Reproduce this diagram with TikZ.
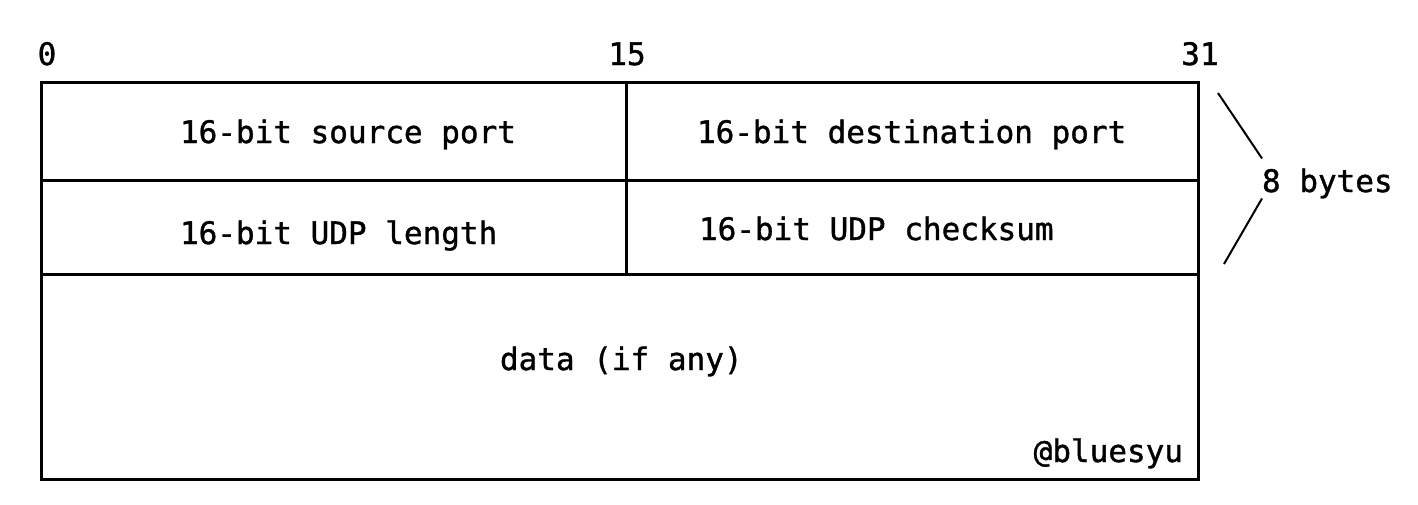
\documentclass[tikz,border=0pt]{standalone}
\usepackage{fontspec}
\setmonofont{DejaVu Sans Mono}[FakeBold=1.2]

\begin{document}
\begin{tikzpicture}[x=1pt, y=-1pt,
  field/.style={draw, line width=3pt, anchor=north west, inner sep=0pt, outer sep=0pt},
  txt/.style={font=\ttfamily\fontsize{31}{36}\selectfont, inner sep=0pt, outer sep=0pt},
  brace/.style={draw, line width=2pt}]

  % Canvas
  \useasboundingbox (0,0) rectangle (1418,504); %

  % Layout the header fields
  \node[field, minimum width=585, minimum height=98]  (src)  at (41,82)   {} ; %
  \node[field, minimum width=572, minimum height=98]  (dst)  at (626,82)  {} ; %
  \node[field, minimum width=585, minimum height=94]  (len)  at (41,180)  {} ; %
  \node[field, minimum width=572, minimum height=94]  (chk)  at (626,180) {} ; %
  \node[field, minimum width=1157, minimum height=205] (data) at (41,274) {} ; %

  % Field texts
  \node[txt, anchor=base west] (src-t)  at (180,143) {16-bit source port} ; %
  \node[txt, anchor=base west] (dst-t)  at (697,143) {16-bit destination port} ; %
  \node[txt, anchor=base west] (len-t)  at (180,244) {16-bit UDP length} ; %
  \node[txt, anchor=base west] (chk-t)  at (699,240) {16-bit UDP checksum} ; %
  \node[txt, anchor=base west] (data-t) at (500,370) {data (if any)} ; %
  \node[txt, anchor=base east] (sign)   at (1183,462) {@bluesyu} ; %

  % Bit offsets
  \node[txt, anchor=base] (b0)  at (47,65)   {0} ; %
  \node[txt, anchor=base] (b15) at (627,65)  {15} ; %
  \node[txt, anchor=base] (b31) at (1200,65) {31} ; %

  % Header size
  \node[txt, anchor=base west] (bytes) at (1262,192) {8 bytes} ; %
  \coordinate (brtop) at (1218,93) ; %
  \coordinate (brbot) at (1224,264) ; %
  \draw[brace] (brtop) -- ([yshift=10pt]bytes.north west) ; %
  \draw[brace] (bytes.south west) -- (brbot) ; %

\end{tikzpicture}
\end{document}
